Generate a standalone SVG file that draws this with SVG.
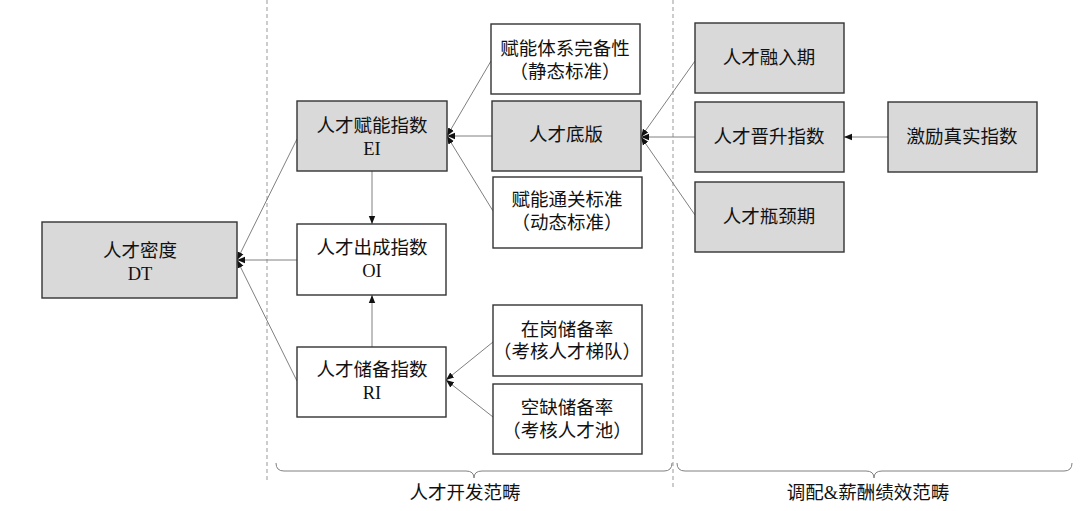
<svg xmlns="http://www.w3.org/2000/svg" width="1080" height="511" viewBox="0 0 1080 511">
<style>
.box{stroke:#333333;stroke-width:1.4}
.g{fill:#d9d9d9}
.w{fill:#ffffff}
text{font-family:"Liberation Serif","Noto Sans CJK SC",serif;font-size:18.5px;fill:#111;text-anchor:middle;dominant-baseline:central}
.c line{stroke:#808080;stroke-width:1;fill:none}
.dash{stroke:#999;stroke-width:1;stroke-dasharray:4 3;fill:none}
.brace{stroke:#808080;stroke-width:1;fill:none}
</style>
<defs>
<marker id="ah" markerUnits="userSpaceOnUse" markerWidth="8" markerHeight="8" viewBox="0 0 8 8" refX="8" refY="4" orient="auto">
<path d="M0,0.8 L8,4 L0,7.2 Z" fill="#111"/>
</marker>
</defs>
<rect width="1080" height="511" fill="#fff"/>
<g id="dividers">
<line class="dash" x1="267" y1="0" x2="267" y2="481"/>
<line class="dash" x1="673" y1="0" x2="673" y2="487"/>
<path class="brace" d="M276,463 Q276,471 284,471 L466,471 Q474,471 474,478 Q474,471 482,471 L664,471 Q672,471 672,463"/>
<path class="brace" d="M677,463 Q677,471 685,471 L866,471 Q874,471 874,478 Q874,471 882,471 L1064,471 Q1072,471 1072,463"/>
<text x="465" y="493">人才开发范畴</text>
<text x="868" y="493">调配&amp;薪酬绩效范畴</text>
</g>
<g id="connectors" class="c">
<line x1="297" y1="139" x2="237" y2="260" marker-end="url(#ah)"/>
<line x1="297" y1="260" x2="237" y2="260" marker-end="url(#ah)"/>
<line x1="297" y1="381" x2="237" y2="260" marker-end="url(#ah)"/>
<line x1="372" y1="171" x2="372" y2="224" marker-end="url(#ah)"/>
<line x1="372" y1="347" x2="372" y2="295" marker-end="url(#ah)"/>
<line x1="491" y1="61" x2="447" y2="136" marker-end="url(#ah)"/>
<line x1="492" y1="136" x2="447" y2="136" marker-end="url(#ah)"/>
<line x1="493" y1="211" x2="447" y2="136" marker-end="url(#ah)"/>
<line x1="695" y1="61" x2="641" y2="137" marker-end="url(#ah)"/>
<line x1="695" y1="137" x2="641" y2="137" marker-end="url(#ah)"/>
<line x1="695" y1="215" x2="641" y2="137" marker-end="url(#ah)"/>
<line x1="888" y1="137" x2="844" y2="137" marker-end="url(#ah)"/>
<line x1="493" y1="342" x2="446" y2="380" marker-end="url(#ah)"/>
<line x1="493" y1="417" x2="446" y2="380" marker-end="url(#ah)"/>
</g>
<g id="DT"><rect class="box g" x="42" y="222" width="195" height="76"/><text x="140" y="251">人才密度</text><text x="140" y="274">DT</text></g>
<g id="EI"><rect class="box g" x="297" y="101" width="150" height="70"/><text x="372" y="126">人才赋能指数</text><text x="372" y="149">EI</text></g>
<g id="OI"><rect class="box w" x="297" y="224" width="149" height="71"/><text x="372" y="248">人才出成指数</text><text x="372" y="271">OI</text></g>
<g id="RI"><rect class="box w" x="297" y="347" width="149" height="70"/><text x="372" y="370">人才储备指数</text><text x="372" y="393">RI</text></g>
<g id="static"><rect class="box w" x="491" y="24" width="149" height="70"/><text x="565" y="49">赋能体系完备性</text><text x="565" y="72">（静态标准）</text></g>
<g id="base"><rect class="box g" x="492" y="101" width="149" height="70"/><text x="566" y="135">人才底版</text></g>
<g id="dynamic"><rect class="box w" x="493" y="177" width="149" height="71"/><text x="567" y="200">赋能通关标准</text><text x="567" y="223">（动态标准）</text></g>
<g id="onjob"><rect class="box w" x="493" y="305" width="149" height="71"/><text x="567" y="330">在岗储备率</text><text x="567" y="352">（考核人才梯队）</text></g>
<g id="vacant"><rect class="box w" x="493" y="384" width="149" height="70"/><text x="567" y="408">空缺储备率</text><text x="567" y="431">（考核人才池）</text></g>
<g id="integrate"><rect class="box g" x="695" y="23" width="149" height="70"/><text x="769" y="58">人才融入期</text></g>
<g id="promote"><rect class="box g" x="695" y="102" width="149" height="70"/><text x="769" y="137">人才晋升指数</text></g>
<g id="bottleneck"><rect class="box g" x="695" y="182" width="149" height="70"/><text x="769" y="217">人才瓶颈期</text></g>
<g id="incentive"><rect class="box g" x="888" y="102" width="149" height="70"/><text x="962" y="137">激励真实指数</text></g>
</svg>
